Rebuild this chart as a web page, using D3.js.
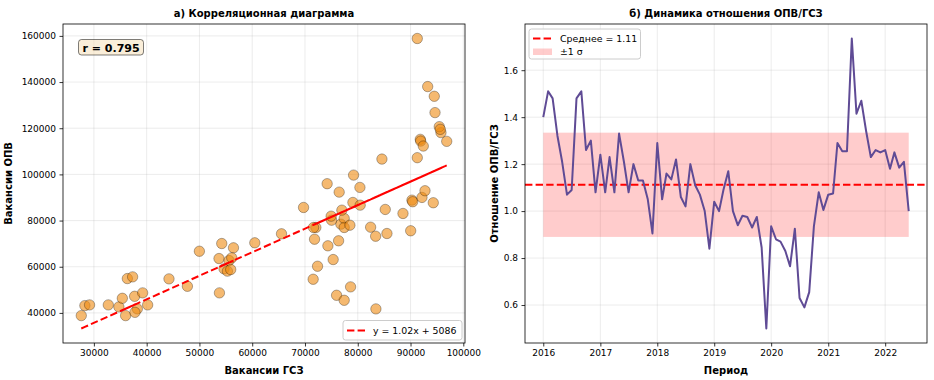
<!DOCTYPE html>
<html>
<head>
<meta charset="utf-8">
<script src="https://cdn.jsdelivr.net/npm/d3@7"></script>
<style>
body { margin: 0; background: #fff; }
text { font-family: "DejaVu Sans", sans-serif; fill: #000; }
</style>
</head>
<body>
<svg id="chart" width="934" height="380"></svg>
<script>
// vacancies by month (Jan 2016 .. Jun 2022)
var gszVacancies = [27610, 28290, 29180, 32730, 34740, 36010, 38230, 36340, 37340, 37720, 35390, 37780,
  39240, 40190, 44230, 47720, 49990, 56450, 54660, 53710, 55610, 56120, 55300, 53790,
  54230, 55930, 60490, 65550, 69730, 72060, 76800, 76480, 79080, 75040, 71810, 72380,
  77430, 77430, 76990, 80410, 78510, 82440, 90270, 90410, 88570, 92170, 90030, 83440,
  94310, 83390, 85530, 75340, 71550, 74340, 75990, 77430, 78640, 76370, 80460, 85210,
  74960, 71620, 74200, 79210, 84580, 91280, 94500, 93250, 94640, 95770, 95450, 95640,
  91850, 96860, 91920, 91280, 92420, 92740];
var opvVacancies = [38830, 43170, 43470, 43470, 42600, 38830, 41740, 54880, 55620, 47200, 46330, 40260,
  48680, 43470, 54750, 51540, 66720, 68200, 59090, 63560, 62690, 63860, 58100, 48680,
  70060, 58790, 70370, 74270, 85680, 77010, 78440, 92320, 87850, 80170, 71930, 60220,
  80910, 77010, 84510, 94360, 78000, 77140, 88850, 88160, 83080, 90020, 75580, 41740,
  87720, 73230, 74400, 63120, 54580, 69070, 47640, 45470, 51280, 71240, 86680, 84820,
  81910, 77010, 95970, 99700, 106640, 158870, 133840, 138050, 126770, 118090, 120690, 119520,
  115190, 114320, 114450, 107240, 112280, 92930];
// ratio OPV/GSZ
var ratioValues = [1.40, 1.51, 1.48, 1.32, 1.21, 1.07, 1.09, 1.48, 1.51, 1.26, 1.30, 1.08,
  1.24, 1.08, 1.23, 1.08, 1.33, 1.21, 1.08, 1.20, 1.13, 1.13, 1.05, 0.905,
  1.29, 1.05, 1.16, 1.135, 1.22, 1.06, 1.02, 1.20, 1.11, 1.07, 1.00, 0.84,
  1.04, 1.00, 1.09, 1.17, 1.00, 0.94, 0.98, 0.975, 0.93, 0.975, 0.845, 0.50,
  0.935, 0.88, 0.87, 0.83, 0.765, 0.925, 0.63, 0.59, 0.655, 0.935, 1.08, 1.005,
  1.07, 1.075, 1.29, 1.255, 1.255, 1.735, 1.415, 1.47, 1.34, 1.23, 1.26, 1.25,
  1.26, 1.18, 1.25, 1.185, 1.21, 1.00];
var firstMonth = new Date(2016, 0, 1), lastMonth = new Date(2022, 5, 1);

var fitSlope = 1.02, fitIntercept = 5086, corrR = 0.795;
var ratioMean = 1.112, ratioSd = 0.222;

var xTicksLeft = [30000, 40000, 50000, 60000, 70000, 80000, 90000, 100000];
var yTicksLeft = [40000, 60000, 80000, 100000, 120000, 140000, 160000];
var yTicksRight = [0.6, 0.8, 1.0, 1.2, 1.4, 1.6];
var yearTicks = [2016, 2017, 2018, 2019, 2020, 2021, 2022];

var svg = d3.select("#chart");
var L = {x: 63, y: 24, w: 402, h: 319};
var R = {x: 525, y: 24, w: 402, h: 319};

// matplotlib style 5% margins
function pad(ext) {
  var p = (ext[1] - ext[0]) * 0.05;
  return [ext[0] - p, ext[1] + p];
}

function grid(g, xs, xv, ys, yv, w, h) {
  g.selectAll(".gx").data(xv).join("line")
    .attr("x1", function (d) { return xs(d); }).attr("x2", function (d) { return xs(d); })
    .attr("y1", 0).attr("y2", h)
    .attr("stroke", "#b0b0b0").attr("stroke-opacity", 0.3).attr("stroke-width", 0.8);
  g.selectAll(".gy").data(yv).join("line")
    .attr("y1", function (d) { return ys(d); }).attr("y2", function (d) { return ys(d); })
    .attr("x1", 0).attr("x2", w)
    .attr("stroke", "#b0b0b0").attr("stroke-opacity", 0.3).attr("stroke-width", 0.8);
}

function axes(g, xAxis, yAxis, w, h) {
  var ax = g.append("g").attr("transform", "translate(0," + h + ")").call(xAxis);
  var ay = g.append("g").call(yAxis);
  [ax, ay].forEach(function (a) {
    a.select(".domain").remove();
    a.selectAll(".tick line").attr("stroke", "#000").attr("stroke-width", 0.8);
    a.selectAll(".tick text").attr("font-size", 9).attr("font-family", "DejaVu Sans").attr("fill", "#000");
  });
  g.append("rect").attr("width", w).attr("height", h)
    .attr("fill", "none").attr("stroke", "#000").attr("stroke-width", 0.8);
}

// ---------- a) scatter ----------
var fitVals = gszVacancies.map(function (v) { return fitSlope * v + fitIntercept; });
var xL = d3.scaleLinear().domain(pad(d3.extent(gszVacancies))).range([0, L.w]);
var yL = d3.scaleLinear().domain(pad(d3.extent(opvVacancies.concat(fitVals)))).range([L.h, 0]);

var gL = svg.append("g").attr("transform", "translate(" + L.x + "," + L.y + ")");
grid(gL, xL, xTicksLeft, yL, yTicksLeft, L.w, L.h);

gL.selectAll("circle").data(gszVacancies).join("circle")
  .attr("cx", function (d) { return xL(d); })
  .attr("cy", function (d, i) { return yL(opvVacancies[i]); })
  .attr("r", 5.2)
  .attr("fill", "#ee8a10").attr("fill-opacity", 0.6)
  .attr("stroke", "#000").attr("stroke-opacity", 0.6).attr("stroke-width", 0.5);

// fit line drawn through the points in time order, like plt.plot(x, p(x), 'r--')
var fitLine = d3.line()
  .x(function (d) { return xL(d); })
  .y(function (d) { return yL(fitSlope * d + fitIntercept); });
gL.append("path").attr("d", fitLine(gszVacancies))
  .attr("fill", "none").attr("stroke", "red").attr("stroke-width", 2)
  .attr("stroke-dasharray", "7.4,3.2");

axes(gL,
  d3.axisBottom(xL).tickValues(xTicksLeft).tickSize(3.5).tickPadding(3.5).tickFormat(d3.format("d")),
  d3.axisLeft(yL).tickValues(yTicksLeft).tickSize(3.5).tickPadding(3.5).tickFormat(d3.format("d")),
  L.w, L.h);

// r box
var rBox = gL.append("g").attr("transform", "translate(15.5,15.5)");
rBox.append("rect").attr("width", 65).attr("height", 15.5).attr("rx", 3)
  .attr("fill", "wheat").attr("fill-opacity", 0.5).attr("stroke", "#000").attr("stroke-opacity", 0.5);
rBox.append("text").attr("x", 4).attr("y", 12).attr("font-size", 11).attr("font-weight", "bold")
  .text("r = " + corrR.toFixed(3));

// legend
var legL = gL.append("g").attr("transform", "translate(" + (L.w - 122) + "," + (L.h - 22.5) + ")");
legL.append("rect").attr("width", 119).attr("height", 19.5).attr("rx", 2.5)
  .attr("fill", "#fff").attr("fill-opacity", 0.8).attr("stroke", "#ccc");
legL.append("line").attr("x1", 4).attr("x2", 22).attr("y1", 10).attr("y2", 10)
  .attr("stroke", "red").attr("stroke-width", 2).attr("stroke-dasharray", "7.4,3.2");
legL.append("text").attr("x", 30).attr("y", 13.5).attr("font-size", 9.4)
  .text("y = " + fitSlope.toFixed(2) + "x + " + fitIntercept);

gL.append("text").attr("x", L.w / 2).attr("y", -7).attr("text-anchor", "middle")
  .attr("font-size", 10).attr("font-weight", "bold").text("а) Корреляционная диаграмма");
gL.append("text").attr("x", L.w / 2).attr("y", L.h + 31).attr("text-anchor", "middle")
  .attr("font-size", 10).attr("font-weight", "bold").text("Вакансии ГСЗ");
gL.append("text").attr("transform", "translate(-51," + (L.h / 2) + ") rotate(-90)")
  .attr("text-anchor", "middle").attr("font-size", 10).attr("font-weight", "bold").text("Вакансии ОПВ");

// ---------- б) ratio over time ----------
var months = d3.timeMonth.range(firstMonth, d3.timeMonth.offset(lastMonth, 1));
var xR = d3.scaleTime().domain(pad([+firstMonth, +lastMonth])).range([0, R.w]);
var yR = d3.scaleLinear().domain(pad(d3.extent(ratioValues))).range([R.h, 0]);
var yearDates = yearTicks.map(function (y) { return new Date(y, 0, 1); });

var gR = svg.append("g").attr("transform", "translate(" + R.x + "," + R.y + ")");
grid(gR, xR, yearDates, yR, yTicksRight, R.w, R.h);

gR.append("rect")
  .attr("x", xR(firstMonth)).attr("width", xR(lastMonth) - xR(firstMonth))
  .attr("y", yR(ratioMean + ratioSd)).attr("height", yR(ratioMean - ratioSd) - yR(ratioMean + ratioSd))
  .attr("fill", "red").attr("fill-opacity", 0.2);

gR.append("line").attr("x1", 0).attr("x2", R.w)
  .attr("y1", yR(ratioMean)).attr("y2", yR(ratioMean))
  .attr("stroke", "red").attr("stroke-width", 2).attr("stroke-dasharray", "7.4,3.2");

var ratioLine = d3.line()
  .x(function (d, i) { return xR(months[i]); })
  .y(function (d) { return yR(d); });
gR.append("path").attr("d", ratioLine(ratioValues))
  .attr("fill", "none").attr("stroke", "#5f4b95").attr("stroke-width", 2).attr("stroke-linejoin", "round");

axes(gR,
  d3.axisBottom(xR).tickValues(yearDates).tickSize(3.5).tickPadding(3.5).tickFormat(d3.timeFormat("%Y")),
  d3.axisLeft(yR).tickValues(yTicksRight).tickSize(3.5).tickPadding(3.5).tickFormat(d3.format(".1f")),
  R.w, R.h);

var legR = gR.append("g").attr("transform", "translate(4,5)");
legR.append("rect").attr("width", 111.5).attr("height", 30).attr("rx", 2.5)
  .attr("fill", "#fff").attr("fill-opacity", 0.8).attr("stroke", "#ccc");
legR.append("line").attr("x1", 4).attr("x2", 22).attr("y1", 9.5).attr("y2", 9.5)
  .attr("stroke", "red").attr("stroke-width", 2).attr("stroke-dasharray", "7.4,3.2");
legR.append("text").attr("x", 31).attr("y", 12.8).attr("font-size", 9.4)
  .text("Среднее = " + ratioMean.toFixed(2));
legR.append("rect").attr("x", 4).attr("y", 19.5).attr("width", 19).attr("height", 6.5)
  .attr("fill", "red").attr("fill-opacity", 0.2);
legR.append("text").attr("x", 31).attr("y", 26).attr("font-size", 9.4).text("±1 σ");

gR.append("text").attr("x", R.w / 2).attr("y", -7).attr("text-anchor", "middle")
  .attr("font-size", 10).attr("font-weight", "bold").text("б) Динамика отношения ОПВ/ГСЗ");
gR.append("text").attr("x", R.w / 2).attr("y", R.h + 31).attr("text-anchor", "middle")
  .attr("font-size", 10).attr("font-weight", "bold").text("Период");
gR.append("text").attr("transform", "translate(-27," + (R.h / 2) + ") rotate(-90)")
  .attr("text-anchor", "middle").attr("font-size", 10).attr("font-weight", "bold").text("Отношение ОПВ/ГСЗ");
</script>
</body>
</html>
